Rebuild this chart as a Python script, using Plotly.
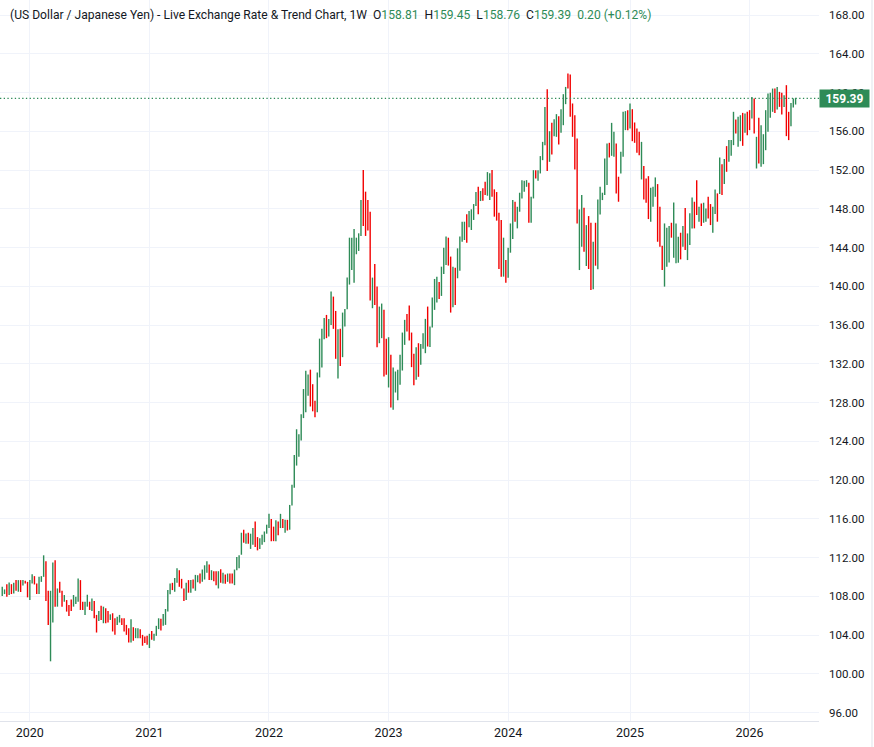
import pandas as pd
import plotly.graph_objects as go

# ---------------- data (weekly USD/JPY bars) ----------------
start_week = "2019-10-07"

opens = [
    # 2019-10 .. 2021-09
    108.30, 108.30, 108.65, 108.20, 109.20, 108.60, 109.20, 108.70, 109.55, 109.20,
    109.55, 109.40, 108.10, 109.50, 110.00, 109.30, 108.40, 109.80, 110.05, 111.55,
    108.00, 105.40, 108.00, 110.80, 107.90, 109.20, 108.45, 107.50, 107.55, 106.90,
    107.50, 107.00, 107.40, 107.80, 109.60, 107.30, 106.90, 107.20, 107.30, 106.80,
    107.50, 105.90, 105.50, 106.10, 105.80, 106.60, 106.20, 105.60, 106.00, 105.40,
    105.10, 105.40, 105.60, 105.30, 104.70, 104.50, 103.40, 104.70, 103.80, 103.90,
    104.50, 103.90, 103.70, 103.60, 103.20, 104.20, 103.70, 104.00, 104.70, 105.40,
    105.00, 105.80, 106.60, 108.50, 109.10, 108.90, 109.70, 110.50, 109.60, 108.80,
    107.90, 109.30, 108.60, 109.50, 109.00, 109.70, 110.10, 109.60, 110.20, 110.90,
    111.20, 110.00, 110.50, 110.20, 109.40, 110.30, 109.70, 110.10, 109.60, 110.20,
    110.10, 109.70, 110.80, 111.10,
    # 2021-10 .. 2022-05
    112.40, 114.30, 113.70, 114.20, 113.60, 114.00, 114.90, 113.60, 113.00, 113.80,
    114.10, 114.50, 115.10, 115.80, 114.60, 113.80, 115.30, 115.10, 115.90, 115.00,
    115.70, 115.00, 117.40, 119.30, 122.00, 122.50, 124.30, 126.50, 129.00, 130.10,
    130.60, 129.20, 127.90, 127.10, 130.80,
    # 2022-06 .. 2023-12
    134.40, 135.10, 136.60, 135.20, 136.10, 138.90, 136.20, 133.60, 135.00, 133.50,
    136.90, 137.70, 140.20, 142.60, 143.60, 143.80, 144.70, 145.30, 148.70, 147.90,
    147.60, 146.60, 138.90, 139.90, 139.20, 135.30, 136.10, 136.70, 133.80, 131.00,
    132.10, 128.00, 129.60, 129.90, 131.10, 131.40, 134.90, 136.30, 135.80, 134.80,
    131.80, 130.70, 132.80, 132.20, 133.70, 134.10, 135.80, 135.00, 135.80, 137.90,
    140.60, 140.00, 139.10, 141.80, 143.70, 144.80, 142.30, 138.80, 141.80, 141.20,
    141.80, 144.90, 145.40, 146.40, 146.20, 147.70, 147.80, 148.30, 149.50, 149.30,
    149.60, 149.90, 149.60, 149.40, 151.50, 149.60, 148.70, 146.80, 144.90,
    # 2023-12 .. 2026-05
    141.60, 142.60, 141.30, 143.70, 144.90, 148.20, 147.20, 148.10, 149.30, 149.90,
    150.30, 150.60, 147.10, 149.10, 151.60, 151.30, 151.70, 153.30, 154.60, 158.30,
    153.00, 155.70, 155.70, 155.60, 157.10, 156.70, 157.40, 159.70, 161.00, 160.80,
    157.90, 157.40, 153.80, 146.60, 146.90, 147.60, 144.30, 146.20, 142.30, 140.00,
    144.20, 142.20, 148.70, 149.00, 149.50, 152.30, 154.60, 153.60, 153.80, 154.50,
    151.00, 151.70, 153.70, 156.30, 157.90, 157.20, 157.80, 156.20, 155.20, 155.50,
    151.80, 152.40, 150.90, 150.50, 147.10, 149.30, 149.60, 149.90, 146.80, 144.00,
    142.20, 143.70, 143.50, 145.90, 145.40, 143.20, 142.80, 144.50, 144.20, 145.30,
    143.00, 144.40, 147.30, 147.70, 148.60, 146.90, 147.70, 147.20, 147.10, 148.20,
    147.50, 146.80, 147.60, 149.40, 149.70, 152.40, 151.20, 153.50, 153.00, 154.40,
    154.60, 157.00, 155.50, 155.40, 156.60, 156.00, 157.40, 157.50, 157.50, 159.20,
    152.60, 155.20, 153.00, 153.00, 155.40, 157.70, 158.00, 159.20, 159.90, 158.40,
    159.90, 158.80, 158.60, 159.30, 157.40, 156.60, 158.70, 158.81,
]

highs = [
    108.99, 108.72, 109.26, 109.44, 109.26, 109.40, 109.68, 109.68, 109.68, 109.68,
    109.61, 109.50, 109.68, 110.29, 110.09, 109.33, 110.02, 110.09, 112.24, 111.62,
    108.58, 108.58, 111.49, 111.73, 108.82, 109.50, 108.58, 108.14, 107.62, 107.11,
    107.69, 108.14, 107.97, 109.85, 109.68, 107.45, 107.45, 108.17, 107.45, 107.79,
    107.52, 106.09, 106.50, 107.04, 106.94, 106.77, 106.50, 106.15, 106.26, 105.74,
    105.91, 106.09, 105.74, 105.74, 105.06, 104.72, 105.64, 104.82, 104.72, 104.72,
    104.62, 104.03, 103.86, 103.93, 104.14, 104.44, 104.14, 104.96, 105.74, 105.68,
    106.19, 106.70, 108.65, 109.33, 109.40, 109.91, 110.91, 110.70, 109.81, 108.82,
    109.40, 109.68, 109.68, 109.74, 110.22, 110.19, 110.36, 110.77, 111.21, 111.62,
    111.28, 110.70, 110.60, 110.60, 110.60, 110.80, 110.43, 110.26, 110.36, 110.36,
    110.36, 110.77, 112.07, 112.24,
    114.57, 114.88, 114.50, 114.57, 114.47, 115.05, 115.73, 114.12, 114.00, 114.36,
    114.70, 115.40, 116.52, 116.00, 115.20, 115.85, 115.73, 116.52, 116.00, 115.90,
    115.90, 117.44, 119.53, 122.58, 125.25, 124.74, 126.80, 129.40, 131.30, 130.90,
    131.40, 129.90, 128.20, 131.10, 134.60,
    135.61, 136.74, 137.05, 136.64, 139.46, 138.94, 137.46, 135.57, 135.61, 137.29,
    137.67, 140.90, 145.02, 145.02, 145.92, 145.02, 145.47, 148.91, 152.00, 149.77,
    148.91, 147.70, 140.90, 142.31, 139.97, 137.91, 138.22, 137.57, 134.58, 134.75,
    132.93, 131.62, 131.21, 131.38, 132.93, 135.23, 136.54, 137.15, 138.01, 135.23,
    133.03, 133.72, 134.13, 134.06, 135.16, 136.64, 137.91, 135.85, 138.84, 140.76,
    141.00, 140.45, 142.03, 143.99, 145.13, 145.02, 143.07, 142.03, 141.93, 143.92,
    145.13, 146.67, 146.67, 147.43, 147.77, 147.95, 148.49, 149.73, 150.28, 149.84,
    150.11, 150.80, 151.79, 151.66, 152.00, 150.01, 149.73, 147.60, 146.85,
    145.02, 142.71, 143.99, 146.49, 148.90, 148.73, 148.21, 149.66, 150.96, 150.89,
    150.96, 150.69, 149.24, 151.99, 151.99, 151.99, 153.44, 154.91, 158.52, 160.34,
    156.01, 156.87, 157.25, 157.77, 157.56, 158.28, 159.83, 160.58, 161.96, 161.86,
    158.87, 157.66, 155.26, 147.94, 149.42, 148.11, 146.32, 147.25, 146.56, 144.60,
    146.56, 148.97, 150.27, 149.66, 153.20, 154.74, 154.81, 156.87, 155.95, 154.74,
    151.31, 153.88, 158.01, 158.08, 158.18, 158.87, 158.28, 156.91, 156.29, 155.95,
    154.91, 152.41, 151.13, 151.37, 150.17, 150.27, 151.24, 150.55, 148.21, 144.19,
    146.49, 146.05, 146.22, 146.56, 148.66, 146.49, 145.12, 145.53, 146.22, 148.08,
    145.46, 147.53, 149.18, 148.73, 150.96, 148.21, 148.56, 148.63, 148.04, 149.24,
    148.49, 148.21, 150.00, 149.59, 153.30, 152.61, 153.13, 154.47, 155.09, 155.09,
    158.01, 157.22, 157.49, 157.66, 157.90, 157.84, 158.01, 158.18, 159.55, 159.38,
    155.43, 157.39, 156.63, 155.70, 158.18, 159.90, 159.97, 160.41, 160.41, 160.58,
    160.07, 159.97, 159.73, 160.76, 158.01, 158.93, 159.38, 159.45,
]

lows = [
    108.03, 108.24, 107.97, 108.14, 108.24, 108.31, 108.58, 108.48, 108.45, 109.13,
    109.33, 107.90, 107.62, 109.33, 109.23, 108.24, 108.24, 109.50, 110.02, 107.52,
    105.06, 101.30, 105.30, 106.94, 106.94, 108.38, 106.94, 107.45, 106.43, 105.98,
    106.50, 106.94, 107.21, 107.45, 106.60, 106.60, 106.09, 106.94, 106.60, 106.50,
    105.74, 104.27, 105.47, 105.57, 105.23, 105.23, 105.30, 105.57, 104.38, 104.03,
    105.06, 105.30, 105.06, 104.38, 104.03, 103.25, 103.25, 103.42, 103.69, 103.69,
    103.69, 102.91, 103.18, 103.01, 102.67, 103.52, 103.42, 103.93, 104.62, 104.48,
    104.96, 105.06, 106.43, 108.21, 108.65, 108.48, 109.40, 108.99, 108.82, 107.52,
    107.62, 108.38, 108.38, 108.82, 108.58, 109.47, 109.33, 109.50, 109.74, 110.43,
    109.68, 109.68, 109.57, 109.16, 108.82, 109.40, 109.33, 109.30, 109.50, 109.33,
    109.33, 109.16, 110.70, 110.91,
    112.30, 113.54, 113.44, 113.44, 112.90, 113.34, 113.10, 112.75, 112.90, 113.34,
    113.60, 114.47, 115.05, 113.70, 113.70, 113.70, 114.30, 115.05, 115.05, 114.57,
    114.80, 114.88, 117.38, 119.20, 121.50, 122.40, 124.10, 126.40, 127.00, 128.70,
    127.60, 127.10, 126.50, 127.00, 130.60,
    131.62, 134.54, 134.65, 134.82, 136.02, 135.61, 132.52, 130.49, 131.79, 132.69,
    135.85, 137.64, 140.18, 141.69, 140.38, 143.31, 143.65, 145.20, 146.23, 145.20,
    145.75, 138.53, 137.74, 138.08, 133.72, 134.13, 134.65, 130.69, 130.87, 129.56,
    127.50, 127.26, 129.04, 128.25, 129.84, 131.31, 133.96, 135.33, 134.41, 131.66,
    129.80, 130.35, 130.66, 131.90, 133.55, 133.10, 133.79, 133.75, 135.75, 137.57,
    138.32, 138.70, 139.01, 141.28, 142.21, 142.14, 137.29, 137.84, 138.08, 140.83,
    141.62, 144.61, 144.78, 144.51, 146.09, 145.81, 146.85, 148.29, 147.43, 148.80,
    148.84, 149.42, 149.35, 148.91, 149.25, 147.19, 146.78, 141.79, 141.00,
    141.00, 140.38, 140.89, 143.47, 144.88, 146.67, 145.98, 147.70, 149.07, 149.76,
    150.27, 146.56, 146.56, 149.07, 151.13, 150.89, 151.65, 153.02, 154.57, 151.89,
    152.85, 153.61, 155.50, 155.43, 154.64, 155.84, 156.63, 158.80, 160.41, 157.49,
    155.43, 152.06, 146.49, 141.68, 144.09, 143.57, 142.10, 141.79, 139.62, 139.69,
    142.13, 141.75, 147.42, 148.90, 149.42, 150.45, 153.30, 153.47, 153.37, 149.59,
    148.73, 151.65, 153.37, 156.12, 156.12, 156.29, 154.98, 154.81, 153.78, 153.54,
    151.03, 148.97, 148.63, 146.94, 146.67, 148.21, 149.24, 144.60, 144.09, 141.68,
    139.97, 142.03, 142.47, 145.02, 142.96, 142.37, 142.44, 142.78, 144.09, 143.75,
    142.71, 144.26, 145.98, 145.98, 147.35, 146.67, 146.22, 146.56, 146.67, 147.01,
    146.32, 145.53, 147.46, 146.67, 149.52, 149.42, 150.55, 151.82, 152.85, 153.47,
    154.57, 155.77, 154.40, 154.98, 154.50, 155.84, 155.60, 156.12, 157.32, 155.77,
    152.16, 152.68, 152.34, 152.61, 154.05, 155.95, 157.39, 158.01, 157.90, 158.25,
    158.52, 157.73, 158.52, 155.50, 155.09, 156.53, 158.45, 158.76,
]

closes = [
    108.80, 108.65, 108.20, 109.30, 108.60, 109.20, 108.70, 109.60, 108.60, 109.60,
    109.40, 108.10, 109.50, 110.20, 109.30, 108.40, 109.80, 110.00, 111.60, 108.00,
    105.40, 108.00, 110.80, 107.90, 108.50, 108.45, 107.50, 107.90, 106.90, 106.30,
    106.80, 107.80, 107.80, 109.60, 106.90, 106.90, 107.20, 107.90, 106.80, 107.60,
    105.90, 105.40, 106.10, 105.80, 106.60, 105.50, 105.60, 106.00, 104.70, 104.60,
    105.70, 105.90, 105.30, 104.60, 104.50, 103.40, 105.30, 103.80, 104.50, 104.60,
    103.90, 103.30, 103.40, 103.20, 103.90, 103.80, 104.00, 104.70, 105.40, 104.60,
    106.00, 106.60, 108.50, 109.10, 108.90, 109.70, 110.70, 109.60, 108.90, 107.90,
    109.30, 108.60, 109.50, 109.00, 110.00, 110.10, 109.60, 110.60, 111.00, 111.50,
    110.00, 110.50, 109.80, 109.40, 110.20, 109.70, 110.30, 109.60, 110.20, 109.80,
    109.70, 110.70, 111.90, 112.10,
    114.30, 113.70, 114.20, 113.60, 114.00, 114.90, 113.40, 113.00, 113.80, 114.10,
    114.50, 115.10, 116.10, 114.20, 113.80, 115.30, 114.60, 116.00, 115.20, 115.70,
    115.00, 117.30, 119.20, 122.00, 122.50, 124.30, 126.40, 129.00, 130.10, 130.60,
    129.20, 127.80, 127.10, 130.80, 134.40,
    135.10, 136.60, 135.20, 136.00, 139.10, 136.20, 133.60, 135.00, 133.50, 136.90,
    137.40, 140.20, 143.00, 143.60, 143.80, 144.70, 145.30, 148.70, 147.70, 147.60,
    146.60, 138.90, 139.90, 139.20, 135.30, 136.60, 136.70, 132.80, 133.00, 132.10,
    128.00, 129.60, 129.90, 131.10, 131.40, 134.90, 136.30, 135.80, 134.80, 131.80,
    130.70, 132.80, 132.20, 133.70, 134.10, 135.80, 135.00, 135.80, 137.90, 140.60,
    140.70, 139.00, 141.80, 143.70, 144.80, 142.30, 138.80, 141.80, 141.20, 141.80,
    144.90, 145.40, 146.40, 146.20, 147.70, 147.80, 148.30, 149.50, 149.30, 149.60,
    149.50, 149.60, 151.40, 151.40, 149.60, 148.70, 146.80, 144.90, 142.20,
    142.60, 141.30, 143.70, 144.90, 148.20, 147.20, 148.10, 149.30, 150.60, 150.60,
    150.60, 147.10, 149.10, 151.40, 151.30, 151.60, 153.30, 154.60, 158.30, 153.00,
    155.70, 153.70, 156.70, 157.10, 156.70, 157.40, 159.70, 160.50, 160.80, 157.90,
    157.50, 153.80, 146.60, 146.90, 147.50, 144.30, 146.20, 142.30, 140.00, 144.20,
    142.20, 148.70, 149.10, 149.50, 152.30, 153.00, 153.60, 156.60, 154.50, 150.00,
    149.70, 153.70, 157.80, 157.90, 157.20, 157.80, 156.20, 155.20, 154.00, 154.20,
    152.40, 149.20, 149.30, 147.10, 149.30, 149.60, 150.00, 146.80, 145.50, 142.20,
    143.70, 145.00, 145.40, 145.40, 145.70, 144.80, 144.50, 143.80, 145.30, 144.50,
    144.40, 147.30, 147.70, 147.40, 147.70, 147.70, 147.20, 147.80, 147.70, 147.50,
    146.80, 147.60, 149.40, 147.70, 153.00, 151.20, 152.90, 153.00, 154.40, 154.70,
    157.30, 156.30, 156.40, 156.60, 155.80, 157.40, 155.80, 156.70, 159.20, 156.60,
    154.90, 153.00, 155.50, 155.40, 157.70, 159.40, 159.20, 159.90, 158.40, 159.90,
    158.80, 158.10, 159.30, 156.00, 155.70, 158.70, 159.19, 159.39,
]

# header figures exactly as shown in the reference legend
last_change = 0.20
last_change_pct = 0.12

year_tick_weeks = ["2019-12-30", "2020-12-28", "2021-12-27", "2022-12-26",
                   "2023-12-25", "2024-12-30", "2025-12-29"]
year_labels = ["2020", "2021", "2022", "2023", "2024", "2025", "2026"]

title_text = "(US Dollar / Japanese Yen) - Live Exchange Rate &amp; Trend Chart, 1W"

# ---------------- styling ----------------
GREEN = "#2e8b57"
RED = "#f20000"
TEXT = "#131722"
GRID = "#f0f3fa"
BORDER = "#e0e3eb"

dates = pd.date_range(start_week, periods=len(closes), freq="7D")

fig = go.Figure()
fig.add_trace(go.Ohlc(
    x=dates, open=opens, high=highs, low=lows, close=closes,
    increasing=dict(line=dict(color=GREEN, width=1.4)),
    decreasing=dict(line=dict(color=RED, width=1.4)),
    tickwidth=0, hoverinfo="skip", showlegend=False,
))

last_c = closes[-1]


def g(v):
    return f'<span style="color:{GREEN}">{v}</span>'


sp = "&nbsp;&nbsp;"
header = (title_text + sp + "O" + g(f"{opens[-1]:.2f}") + sp + "H" + g(f"{highs[-1]:.2f}")
          + sp + "L" + g(f"{lows[-1]:.2f}") + sp + "C" + g(f"{closes[-1]:.2f}")
          + sp + g(f"{last_change:.2f} (+{last_change_pct:.2f}%)"))

fig.add_annotation(xref="paper", yref="paper", x=0, y=1, xanchor="left", yanchor="middle",
                   xshift=8, yshift=-15, text=header, showarrow=False,
                   font=dict(size=12.1, color=TEXT, family="Roboto, sans-serif"), align="left")

fig.add_annotation(xref="paper", yref="y", x=1, y=last_c, xanchor="left", yanchor="middle",
                   text=f"<b>{last_c:.2f}</b>", showarrow=False, bgcolor=GREEN,
                   font=dict(size=12, color="white", family="Roboto, sans-serif"),
                   width=45, height=13, borderpad=2, align="center")

fig.add_shape(type="line", xref="paper", yref="y", x0=0, x1=1, y0=last_c, y1=last_c,
              line=dict(color=GREEN, width=1.3, dash="1.3px,2.4px"), layer="above")
fig.add_shape(type="line", xref="paper", yref="paper", x0=1.0647, x1=1.0647, y0=-0.04, y1=1.0,
              line=dict(color=BORDER, width=1))

fig.update_layout(
    width=874, height=747,
    margin=dict(l=0, r=55, t=0, b=26),
    paper_bgcolor="white", plot_bgcolor="white",
    font=dict(family="Roboto, sans-serif", color=TEXT),
    showlegend=False,
    xaxis=dict(
        type="date", range=["2019-09-30 04:00", "2026-07-28 07:00"],
        rangeslider=dict(visible=False),
        tickmode="array", tickvals=year_tick_weeks, ticktext=year_labels,
        showgrid=True, gridcolor=GRID, gridwidth=1,
        showline=True, linecolor=BORDER, linewidth=1,
        zeroline=False, ticks="", tickfont=dict(size=12.5, color=TEXT),
    ),
    yaxis=dict(
        side="right", range=[95.14, 169.55], dtick=4, tick0=0, tickformat=".2f",
        showgrid=True, gridcolor=GRID, gridwidth=1, zeroline=False,
        showline=False, ticks="", ticklabelstandoff=9,
        tickfont=dict(size=11.5, color=TEXT),
    ),
)

fig.write_html("out.html")
